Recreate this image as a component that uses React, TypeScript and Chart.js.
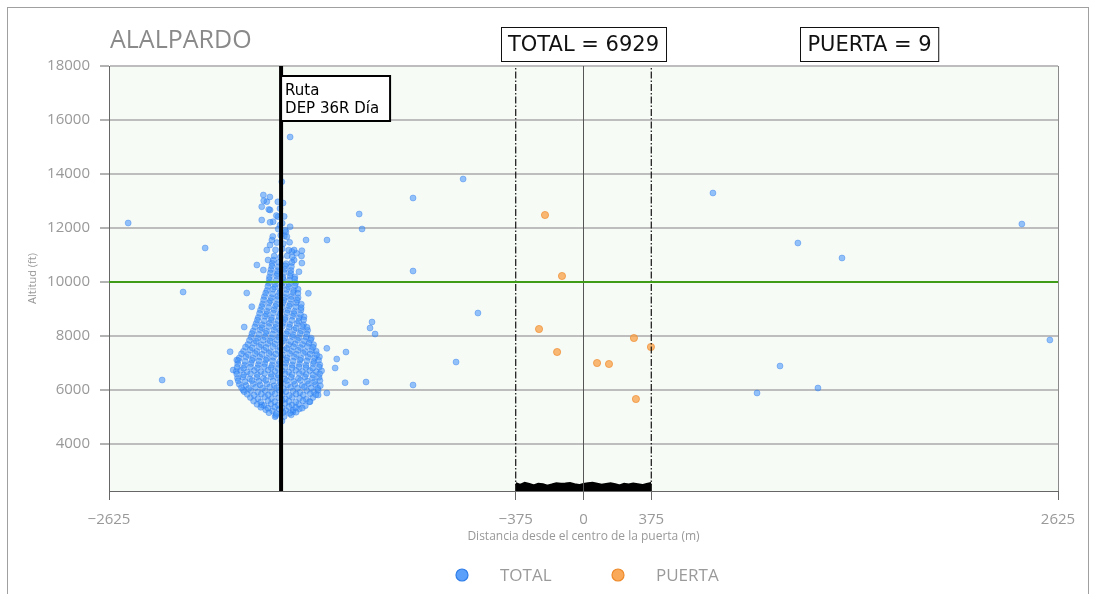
import React, { useEffect, useRef } from "react";
import { Chart, registerables } from "chart.js";
Chart.register(...registerables);

const chartTitle = "ALALPARDO";
const xAxisTitle = "Distancia desde el centro de la puerta (m)";
const yAxisTitle = "Altitud (ft)";
const seriesNames = ["TOTAL", "PUERTA"];
const totalCount = 6929;
const puertaCount = 9;
const routeLabel = ["Ruta", "DEP 36R Día"];

const xRange = [-2625, 2625];
const yRange = [2260, 18000];
const xTickValues = [-2625, -375, 0, 375, 2625];
const yTickValues = [4000, 6000, 8000, 10000, 12000, 14000, 16000, 18000];

const routeDistance = -1673;
const gateEdges = [-375, 375];
const gateCenter = 0;
const altitudeLimit = 10000;

const totalCluster: [number, number][] = [
  [-1668,4850],
  [-1702,5060],[-1656,5020],[-1617,5080],
  [-1758,5270],[-1721,5230],[-1684,5290],[-1646,5240],[-1607,5260],[-1572,5300],
  [-1806,5470],[-1767,5430],[-1729,5480],[-1691,5440],[-1651,5500],[-1613,5450],[-1576,5470],[-1539,5420],
  [-1843,5720],[-1801,5680],[-1763,5740],[-1726,5690],[-1687,5710],[-1649,5670],[-1611,5730],[-1571,5700],[-1534,5660],[-1497,5720],
  [-1877,5940],[-1841,5980],[-1803,5920],[-1761,5970],[-1725,5930],[-1685,5990],[-1647,5940],[-1607,5960],[-1569,5910],[-1531,5980],[-1493,5940],[-1468,5990],
  [-1904,6210],[-1867,6170],[-1827,6230],[-1789,6190],[-1751,6220],[-1711,6160],[-1673,6240],[-1637,6190],[-1597,6210],[-1557,6170],[-1521,6230],[-1483,6200],[-1456,6160],
  [-1914,6440],[-1884,6480],[-1847,6420],[-1807,6470],[-1771,6430],[-1729,6490],[-1693,6450],[-1653,6410],[-1617,6470],[-1577,6430],[-1541,6480],[-1499,6440],[-1463,6470],
  [-1921,6690],[-1897,6730],[-1861,6670],[-1821,6720],[-1785,6680],[-1745,6740],[-1707,6690],[-1667,6710],[-1631,6670],[-1591,6730],[-1555,6690],[-1514,6720],[-1479,6680],[-1449,6710],
  [-1913,6960],[-1875,6920],[-1839,6980],[-1799,6940],[-1763,6970],[-1723,6920],[-1687,6950],[-1647,6990],[-1611,6930],[-1571,6960],[-1535,6920],[-1495,6970],[-1459,6940],
  [-1904,7190],[-1867,7230],[-1827,7180],[-1791,7220],[-1751,7170],[-1715,7210],[-1675,7240],[-1639,7190],[-1599,7220],[-1563,7170],[-1523,7210],[-1487,7190],[-1461,7230],
  [-1881,7440],[-1844,7480],[-1807,7430],[-1767,7470],[-1731,7420],[-1691,7460],[-1655,7490],[-1615,7440],[-1579,7470],[-1539,7420],[-1503,7460],[-1479,7440],
  [-1857,7690],[-1823,7730],[-1783,7680],[-1747,7720],[-1707,7700],[-1671,7740],[-1631,7680],[-1595,7710],[-1555,7690],[-1519,7730],[-1493,7680],
  [-1839,7960],[-1803,7920],[-1763,7970],[-1727,7930],[-1687,7960],[-1651,7920],[-1611,7980],[-1575,7940],[-1535,7960],[-1506,7920],
  [-1827,8190],[-1789,8230],[-1753,8180],[-1713,8220],[-1677,8200],[-1637,8170],[-1601,8230],[-1561,8190],[-1526,8210],
  [-1811,8460],[-1777,8420],[-1737,8470],[-1701,8440],[-1661,8480],[-1625,8430],[-1585,8460],[-1549,8420],
  [-1799,8690],[-1761,8730],[-1725,8680],[-1685,8720],[-1649,8690],[-1609,8730],[-1573,8680],[-1546,8710],
  [-1787,8960],[-1751,8920],[-1711,8970],[-1675,8930],[-1635,8960],[-1599,8920],[-1563,8960],
  [-1775,9190],[-1739,9230],[-1699,9180],[-1663,9220],[-1623,9190],[-1589,9230],[-1561,9180],
  [-1765,9460],[-1727,9420],[-1691,9470],[-1651,9430],[-1615,9460],[-1579,9420],
  [-1751,9690],[-1717,9730],[-1677,9680],[-1641,9720],[-1603,9690],[-1579,9730],
  [-1741,9960],[-1705,9920],[-1665,9970],[-1629,9930],[-1593,9960],
  [-1737,10190],[-1699,10230],[-1663,10180],[-1623,10220],[-1597,10190],
  [-1729,10460],[-1693,10420],[-1653,10470],[-1619,10430],
  [-1721,10690],[-1685,10730],[-1645,10680],[-1613,10720],
  [-1711,10960],[-1677,10920],[-1639,10970],[-1611,10930],
  [-1704,11190],[-1667,11230],[-1631,11180],
  [-1697,11460],[-1661,11420],[-1626,11470],
  [-1719,11690],[-1675,11730],[-1641,11680],
  [-1689,11960],[-1651,11920],
  [-1734,12210],[-1667,12180],
  [-1699,12460],[-1656,12430],
  [-1741,12690],[-1679,12720],
  [-1769,13010],[-1691,12970],
  [-1735,13150],
];

const totalClusterInner: [number, number][] = [
  [-1740,5160],[-1700,5130],[-1662,5170],[-1625,5140],[-1590,5180],
  [-1785,5360],[-1746,5330],[-1708,5370],[-1668,5340],[-1630,5380],[-1592,5350],[-1556,5330],
  [-1825,5590],[-1786,5560],[-1746,5600],[-1708,5570],[-1668,5610],[-1630,5580],[-1592,5550],[-1552,5600],[-1516,5570],
  [-1860,5840],[-1822,5810],[-1782,5850],[-1744,5820],[-1706,5860],[-1666,5830],[-1628,5800],[-1590,5850],[-1550,5820],[-1512,5860],[-1480,5830],
  [-1892,6090],[-1852,6060],[-1814,6100],[-1776,6070],[-1736,6110],[-1698,6080],[-1660,6050],[-1620,6100],[-1582,6070],[-1544,6110],[-1506,6080],[-1470,6060],
  [-1910,6340],[-1872,6310],[-1834,6350],[-1796,6320],[-1758,6360],[-1718,6330],[-1680,6300],[-1642,6350],[-1604,6320],[-1566,6360],[-1528,6330],[-1488,6310],[-1458,6350],
  [-1918,6590],[-1880,6560],[-1842,6600],[-1804,6570],[-1764,6610],[-1726,6580],[-1688,6550],[-1650,6600],[-1612,6570],[-1572,6610],[-1534,6580],[-1496,6560],[-1460,6600],
  [-1916,6840],[-1880,6810],[-1842,6850],[-1804,6820],[-1766,6860],[-1728,6830],[-1690,6800],[-1650,6850],[-1612,6820],[-1574,6860],[-1536,6830],[-1498,6810],[-1462,6850],
  [-1910,7090],[-1872,7060],[-1834,7100],[-1796,7070],[-1758,7110],[-1720,7080],[-1682,7050],[-1644,7100],[-1606,7070],[-1568,7110],[-1530,7080],[-1492,7060],[-1466,7100],
  [-1892,7340],[-1854,7310],[-1816,7350],[-1778,7320],[-1740,7360],[-1702,7330],[-1664,7300],[-1626,7350],[-1588,7320],[-1550,7360],[-1512,7330],[-1476,7310],
  [-1870,7590],[-1832,7560],[-1794,7600],[-1756,7570],[-1718,7610],[-1680,7580],[-1642,7550],[-1604,7600],[-1566,7570],[-1528,7610],[-1496,7580],
  [-1848,7840],[-1810,7810],[-1772,7850],[-1734,7820],[-1696,7860],[-1658,7830],[-1620,7800],[-1582,7850],[-1544,7820],[-1510,7860],
  [-1834,8090],[-1796,8060],[-1758,8100],[-1720,8070],[-1682,8110],[-1644,8080],[-1606,8050],[-1568,8100],[-1530,8070],
  [-1818,8340],[-1780,8310],[-1742,8350],[-1704,8320],[-1666,8360],[-1628,8330],[-1590,8300],[-1554,8350],[-1530,8320],
  [-1804,8590],[-1766,8560],[-1728,8600],[-1690,8570],[-1652,8610],[-1614,8580],[-1576,8550],[-1548,8600],
  [-1792,8840],[-1754,8810],[-1716,8850],[-1678,8820],[-1640,8860],[-1602,8830],[-1566,8800],
  [-1780,9090],[-1742,9060],[-1704,9100],[-1666,9070],[-1628,9110],[-1592,9080],[-1562,9050],
  [-1770,9340],[-1732,9310],[-1694,9350],[-1656,9320],[-1618,9360],[-1584,9330],
  [-1758,9590],[-1720,9560],[-1682,9600],[-1644,9570],[-1606,9610],[-1580,9580],
  [-1746,9840],[-1708,9810],[-1670,9850],[-1632,9820],[-1596,9860],
  [-1738,10090],[-1700,10060],[-1662,10100],[-1626,10070],[-1598,10110],
  [-1732,10340],[-1694,10310],[-1656,10350],[-1620,10320],
  [-1724,10590],[-1688,10560],[-1650,10600],[-1616,10570],
];

const totalStrays: [number, number][] = [
  [-1420,7544],[-1365,7148],[-1374,6815],[-1319,6270],[-1468,5815],[-1420,5889],
  [-1558,10700],[-1588,11063],[-1601,11185],[-1522,9580],[-1807,10630],[-1863,9593],
  [-1835,9085],[-1955,7418],[-1918,7111],[-1938,6741],[-1955,6259],[-1883,6000],
  [-1780,5444],[-1706,5011],[-1607,5196],[-1513,5566],[-1771,13222],[-1752,12974],
  [-1780,12789],[-1734,12667],[-1690,12420],[-1780,12296],[-1662,12925],[-1679,12111],
  [-1623,12048],[-1717,12234],[-1669,13715],[-1877,8333],
  [-1558,11160],[-1613,11130],[-1734,11370],[-1752,11185],[-1724,11555],[-1646,11860],
  [-1655,11700],[-1715,10814],[-1771,10444],[-1745,10815],[-1601,10815],[-1574,10380],
  [-1560,10963],
];

const totalOutliers: [number, number][] = [
  [-2519,12185],[-2093,11259],[-2215,9629],[-2331,6370],[-1623,15370],[-1241,12518],
  [-1225,11963],[-1419,11555],[-1535,11555],[-943,13111],[-666,13815],[-943,10407],
  [-584,8851],[-705,7036],[-943,6185],[-1170,8518],[-1181,8296],[-1153,8074],
  [-1314,7407],[-1203,6296],[716,13296],[1186,11444],[1430,10889],[1087,6889],
  [960,5889],[1297,6074],[2425,12148],[2580,7852],
];

const puertaPoints: [number, number][] = [
  [-213,12481],[-119,10222],[-246,8259],[-146,7407],[75,7000],
  [141,6963],[279,7926],[373,7593],[290,5667],
];

const groundDist = [-375,-350,-325,-300,-275,-250,-225,-200,-175,-150,-125,-100,-75,-50,-25,0,25,50,75,100,125,150,175,200,225,250,275,300,325,350,375];
const groundAlt = [2530,2470,2540,2500,2450,2510,2490,2440,2480,2530,2510,2520,2540,2490,2460,2500,2530,2550,2510,2470,2500,2530,2490,2450,2510,2480,2520,2490,2460,2500,2540];

const toXY = (arr: [number, number][]) => arr.map(([x, y]) => ({ x, y }));
const minus = (v: number) => (v < 0 ? "\u2212" + Math.abs(v) : String(v));

const BLUE_FILL = "rgba(62,145,250,0.55)";
const BLUE_EDGE = "rgba(40,115,235,0.6)";
const ORANGE_FILL = "rgba(248,160,70,0.75)";
const ORANGE_EDGE = "rgba(240,135,40,0.8)";

const decor = {
  id: "decor",
  beforeDraw(chart: any) {
    const { ctx, chartArea: a } = chart;
    ctx.save();
    ctx.fillStyle = "#f6fbf6";
    ctx.fillRect(a.left, a.top, a.right - a.left, a.bottom - a.top);
    ctx.restore();
  },
  afterDraw(chart: any) {
    const { ctx, chartArea: a, scales } = chart;
    const xs = scales.x;
    ctx.save();
    ctx.strokeStyle = "#8a8a8a";
    ctx.lineWidth = 1;
    ctx.beginPath();
    ctx.moveTo(Math.round(a.right) + 0.5, a.top);
    ctx.lineTo(Math.round(a.right) + 0.5, a.bottom);
    ctx.stroke();

    ctx.fillStyle = "#8a8a8a";
    ctx.font = '25px "Open Sans"';
    ctx.textBaseline = "middle";
    ctx.textAlign = "left";
    ctx.fillText(chartTitle, a.left + 1, 41);

    const box = (text: string, cx: number) => {
      ctx.font = '21px "DejaVu Sans"';
      const w = ctx.measureText(text).width + 14;
      const h = 34;
      const left = Math.round(cx - w / 2) + 0.5;
      const top = 27.5;
      ctx.fillStyle = "#ffffff";
      ctx.fillRect(left, top, w, h);
      ctx.strokeStyle = "#111";
      ctx.lineWidth = 1;
      ctx.strokeRect(left, top, w, h);
      ctx.fillStyle = "#111";
      ctx.textAlign = "center";
      ctx.textBaseline = "middle";
      ctx.fillText(text, cx, top + h / 2 + 1);
    };
    box(`${seriesNames[0]} = ${totalCount}`, xs.getPixelForValue(gateCenter));
    box(`${seriesNames[1]} = ${puertaCount}`, 869.5);

    const rl = xs.getPixelForValue(routeDistance);
    ctx.fillStyle = "#ffffff";
    ctx.fillRect(rl, 76, 109, 45);
    ctx.strokeStyle = "#000";
    ctx.lineWidth = 2;
    ctx.strokeRect(rl, 76, 109, 45);
    ctx.fillStyle = "#000";
    ctx.font = '15px "DejaVu Sans"';
    ctx.textAlign = "left";
    ctx.textBaseline = "alphabetic";
    ctx.fillText(routeLabel[0], rl + 4, 95);
    ctx.fillText(routeLabel[1], rl + 4, 113);

    const items = [
      { label: seriesNames[0], fill: "rgba(62,145,250,0.85)", edge: "#2f7de8", cx: 462 },
      { label: seriesNames[1], fill: "rgba(248,160,70,0.9)", edge: "#ee8a2a", cx: 618 },
    ];
    for (const it of items) {
      ctx.beginPath();
      ctx.arc(it.cx, 575, 6, 0, Math.PI * 2);
      ctx.fillStyle = it.fill;
      ctx.fill();
      ctx.strokeStyle = it.edge;
      ctx.lineWidth = 1.2;
      ctx.stroke();
      ctx.fillStyle = "#9a9a9a";
      ctx.font = '17px "Open Sans"';
      ctx.textAlign = "left";
      ctx.textBaseline = "middle";
      ctx.fillText(it.label, it.cx + 38, 576);
    }
    ctx.restore();
  },
};

export default function App() {
  const ref = useRef<HTMLCanvasElement>(null);
  useEffect(() => {
    const canvas = ref.current!;
    const vLine = (x: number) => [
      { x, y: yRange[0] },
      { x, y: yRange[1] },
    ];
    const chart = new Chart(canvas, {
      type: "scatter",
      data: {
        datasets: [
          {
            label: "route",
            data: vLine(routeDistance),
            showLine: true,
            borderColor: "#000",
            borderWidth: 4,
            pointRadius: 0,
          },
          {
            label: "limit",
            data: [
              { x: xRange[0], y: altitudeLimit },
              { x: xRange[1], y: altitudeLimit },
            ],
            showLine: true,
            borderColor: "#3f9c16",
            borderWidth: 2,
            pointRadius: 0,
          },
          {
            label: "gateL",
            data: vLine(gateEdges[0]),
            showLine: true,
            borderColor: "#111",
            borderWidth: 1.2,
            borderDash: [7, 2, 1.5, 2],
            pointRadius: 0,
          },
          {
            label: "gateR",
            data: vLine(gateEdges[1]),
            showLine: true,
            borderColor: "#111",
            borderWidth: 1.2,
            borderDash: [7, 2, 1.5, 2],
            pointRadius: 0,
          },
          {
            label: "center",
            data: vLine(gateCenter),
            showLine: true,
            borderColor: "#555",
            borderWidth: 1,
            pointRadius: 0,
          },
          {
            label: "ground",
            data: groundDist.map((x, i) => ({ x, y: groundAlt[i] })),
            showLine: true,
            borderColor: "#000",
            backgroundColor: "#000",
            borderWidth: 3,
            fill: "start",
            pointRadius: 0,
          },
          {
            label: seriesNames[1],
            data: toXY(puertaPoints),
            backgroundColor: ORANGE_FILL,
            borderColor: ORANGE_EDGE,
            borderWidth: 0.8,
            pointRadius: 3.6,
          },
          {
            label: seriesNames[0],
            data: toXY([...totalOutliers, ...totalStrays, ...totalCluster, ...totalClusterInner]),
            backgroundColor: BLUE_FILL,
            borderColor: BLUE_EDGE,
            borderWidth: 0.6,
            pointRadius: 3,
          },
        ],
      },
      plugins: [decor],
      options: {
        animation: false,
        responsive: false,
        devicePixelRatio: 1,
        layout: { padding: { left: 0, top: 66, right: 38, bottom: 43 } },
        plugins: { legend: { display: false }, tooltip: { enabled: false } },
        scales: {
          x: {
            type: "linear",
            min: xRange[0],
            max: xRange[1],
            afterBuildTicks: (s: any) => {
              s.ticks = xTickValues.map((value) => ({ value }));
            },
            afterFit: (s: any) => {
              s.height = 60;
            },
            ticks: {
              color: "#999",
              font: { family: "Open Sans", size: 15 },
              padding: 11,
              maxRotation: 0,
              autoSkip: false,
              callback: (v: any) => minus(Number(v)),
            },
            grid: {
              drawOnChartArea: false,
              drawTicks: true,
              tickLength: 9,
              tickColor: "#666",
              tickWidth: 1,
            },
            border: { color: "#666", width: 1 },
            title: {
              display: true,
              text: xAxisTitle,
              color: "#999",
              font: { family: "Open Sans", size: 12 },
              padding: { top: 0, bottom: 7 },
            },
          },
          y: {
            type: "linear",
            min: yRange[0],
            max: yRange[1],
            afterBuildTicks: (s: any) => {
              s.ticks = yTickValues.map((value) => ({ value }));
            },
            afterFit: (s: any) => {
              s.width = 109;
            },
            ticks: {
              color: "#999",
              font: { family: "Open Sans", size: 15 },
              padding: 10,
              callback: (v: any) => String(v),
            },
            grid: {
              color: "#bdbdbd",
              lineWidth: 2,
              drawTicks: true,
              tickLength: 9,
              tickColor: "#666",
              tickWidth: 1,
            },
            border: { color: "#666", width: 1 },
            title: {
              display: true,
              text: yAxisTitle,
              color: "#999",
              font: { family: "Open Sans", size: 11 },
              padding: { top: 26, bottom: 0 },
            },
          },
        },
      },
    } as any);
    return () => chart.destroy();
  }, []);
  return (
    <div style={{ position: "fixed", left: 0, top: 0, width: 1096, height: 594, overflow: "hidden", background: "#fff" }}>
      <div
        style={{
          position: "absolute",
          left: 7,
          top: 7,
          width: 1082,
          height: 700,
          border: "1px solid #a0a0a0",
          boxSizing: "border-box",
        }}
      />
      <canvas ref={ref} width={1096} height={594} style={{ position: "absolute", left: 0, top: 0 }} />
    </div>
  );
}
